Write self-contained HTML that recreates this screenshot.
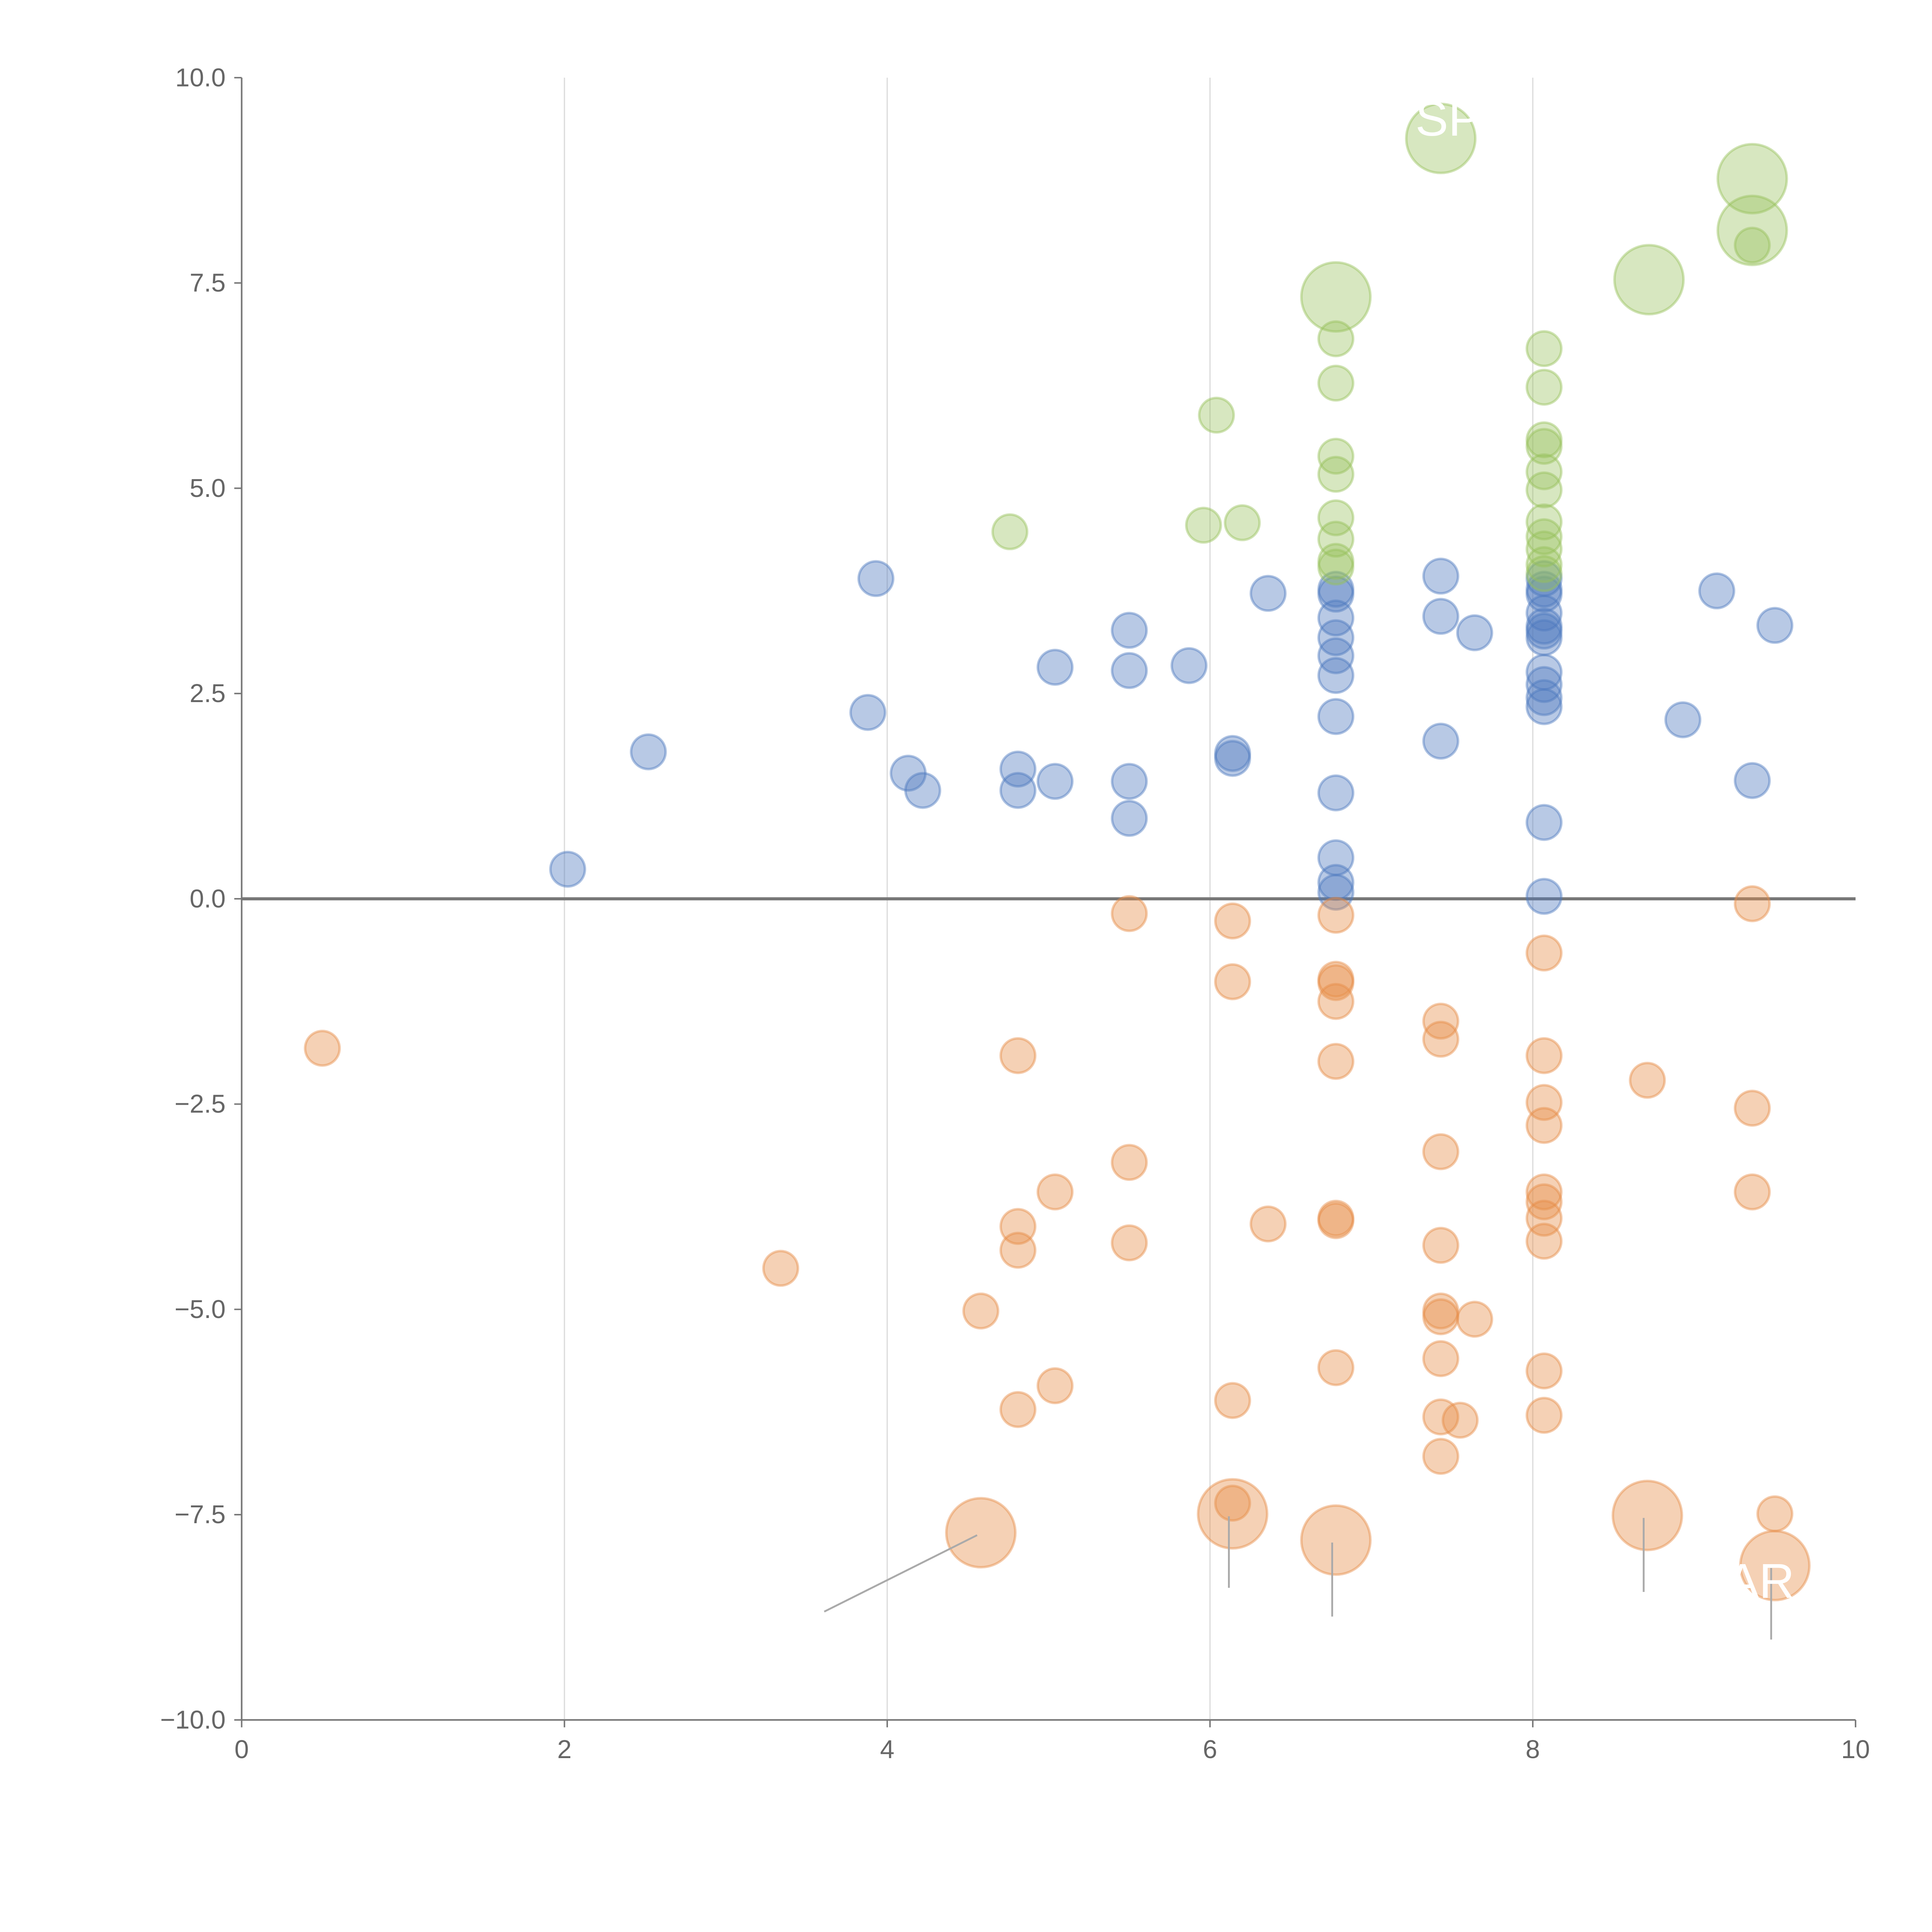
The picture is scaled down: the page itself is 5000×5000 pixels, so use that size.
<!DOCTYPE html>
<html><head><meta charset="utf-8"><style>
html,body{margin:0;padding:0;background:#fff;}
svg{display:block;font-family:"Liberation Sans",Arial,sans-serif;}
</style></head><body>
<svg id="chart" width="5000" height="5000" viewBox="0 0 1567 1567" xmlns="http://www.w3.org/2000/svg">
<g id="grid"></g>
<g id="axes"></g>
<g id="marks"></g>
<g id="labels"></g>
</svg>
<script>
const xTicks=[0,2,4,6,8,10];
const yTicks=[10,7.5,5,2.5,0,-2.5,-5,-7.5,-10];
const yTickLabels=["10.0","7.5","5.0","2.5","0.0","\u22122.5","\u22125.0","\u22127.5","\u221210.0"];
const blueX=[2.02,2.52,3.88,3.93,4.13,4.22,4.81,4.81,5.04,5.04,5.50,5.50,5.50,5.50,5.87,6.14,6.14,6.36,6.78,6.78,6.78,6.78,6.78,6.78,6.78,6.78,6.78,6.78,6.78,7.43,7.43,7.43,7.64,8.07,8.07,8.07,8.07,8.07,8.07,8.07,8.07,8.07,8.07,8.07,8.07,8.07,8.93,9.14,9.36,9.50];
const blueY=[0.36,1.79,2.27,3.90,1.53,1.32,1.58,1.32,2.82,1.43,3.27,2.78,1.43,0.98,2.84,1.77,1.71,3.72,3.77,3.71,3.42,3.18,2.96,2.72,2.22,1.29,0.50,0.20,0.08,3.93,3.44,1.92,3.24,3.90,3.77,3.71,3.48,3.32,3.26,3.18,2.76,2.61,2.45,2.34,0.93,0.03,2.18,3.75,1.44,3.33];
const greenX=[4.76,5.96,6.04,6.20,6.78,6.78,6.78,6.78,6.78,6.78,6.78,6.78,8.07,8.07,8.07,8.07,8.07,8.07,8.07,8.07,8.07,8.07,8.07,9.36];
const greenY=[4.47,4.55,5.89,4.58,6.82,6.28,5.39,5.17,4.64,4.38,4.11,4.04,6.70,6.23,5.59,5.51,5.20,4.98,4.59,4.41,4.26,4.07,3.96,7.96];
const bigGreenX=[6.78,7.43,8.72,9.36,9.36];
const bigGreenY=[7.33,9.26,7.54,8.14,8.77];
const orangeX=[0.50,3.34,4.58,4.81,4.81,4.81,4.81,5.04,5.04,5.50,5.50,5.50,6.14,6.14,6.14,6.14,6.36,6.78,6.78,6.78,6.78,6.78,6.78,6.78,6.78,7.43,7.43,7.43,7.43,7.43,7.43,7.43,7.43,7.43,7.55,7.64,8.07,8.07,8.07,8.07,8.07,8.07,8.07,8.07,8.07,8.07,8.71,9.36,9.36,9.36,9.50];
const orangeY=[-1.82,-4.50,-5.02,-1.91,-3.99,-4.28,-6.22,-3.57,-5.93,-0.18,-3.21,-4.19,-0.27,-1.01,-6.11,-7.36,-3.96,-0.20,-0.98,-1.02,-1.25,-1.98,-3.89,-3.92,-5.71,-1.49,-1.71,-3.08,-4.22,-5.02,-5.09,-5.60,-6.31,-6.79,-6.35,-5.12,-0.66,-1.91,-2.48,-2.76,-3.57,-3.69,-3.89,-4.17,-5.75,-6.29,-2.21,-0.06,-2.55,-3.57,-7.49];
const bigOrangeX=[4.58,6.14,6.78,8.71,9.50];
const bigOrangeY=[-7.72,-7.49,-7.81,-7.51,-8.12];

const NS="http://www.w3.org/2000/svg";
const X0=196,X1=1505,Y0=1395,Y1=63;
const sx=v=>X0+(v-0)/10*(X1-X0);
const sy=v=>Y0-(v+10)/20*(Y0-Y1);
function mk(tag,attrs,parent){const e=document.createElementNS(NS,tag);for(const k in attrs)e.setAttribute(k,attrs[k]);parent.appendChild(e);return e;}
const grid=document.getElementById('grid'),axes=document.getElementById('axes'),marks=document.getElementById('marks'),labels=document.getElementById('labels');

xTicks.forEach((t,i)=>{
  if(t>0&&t<10){const g=mk('line',{x1:sx(t),x2:sx(t),y1:Y1,y2:Y0,stroke:'#dcdcdc','stroke-width':1},grid);
  
  }
  const tk=mk('line',{x1:sx(t),x2:sx(t),y1:Y0,y2:Y0+6,stroke:'#777','stroke-width':1.2},axes);
  
  
  const tx=mk('text',{x:sx(t),y:Y0+31,'text-anchor':'middle','font-size':21,fill:'#666'},axes);
  tx.textContent=String(t);
  
  
});
yTicks.forEach((t,i)=>{
  const tk=mk('line',{x1:X0-6,x2:X0,y1:sy(t),y2:sy(t),stroke:'#777','stroke-width':1.2},axes);
  
  
  const tx=mk('text',{x:X0-13,y:sy(t)+7,'text-anchor':'end','font-size':21,fill:'#666'},axes);
  tx.textContent=yTickLabels[i];
  
  
});
const ya=mk('line',{x1:X0,x2:X0,y1:Y1,y2:Y0,stroke:'#777','stroke-width':1.3},axes);


const xa=mk('line',{x1:X0,x2:X1,y1:Y0,y2:Y0,stroke:'#777','stroke-width':1.3},axes);


const zl=mk('line',{x1:X0,x2:X1,y1:sy(0),y2:sy(0),stroke:'#777','stroke-width':2.5},axes);



function series(xs,ys,r,fill,stroke,name){
  xs.forEach((x,i)=>{
    const c=mk('circle',{cx:sx(x),cy:sy(ys[i]),r:r,fill:fill,stroke:stroke,'stroke-width':2},marks);
    
    
  });
}
series(blueX,blueY,14,'rgba(78,121,190,0.4)','rgba(78,121,190,0.45)','blue-point');
series(greenX,greenY,14,'rgba(150,192,90,0.38)','rgba(150,192,90,0.45)','green-point');
series(bigGreenX,bigGreenY,28,'rgba(150,192,90,0.38)','rgba(150,192,90,0.45)','green-big-point');
series(orangeX,orangeY,14,'rgba(230,140,70,0.4)','rgba(230,140,70,0.45)','orange-point');
series(bigOrangeX,bigOrangeY,28,'rgba(230,140,70,0.4)','rgba(230,140,70,0.45)','orange-big-point');

const leadDX=[-124,0,0,0,0], leadDY=[62,58,60,60,58];
bigOrangeX.forEach((x,i)=>{
  const l=mk('line',{x1:sx(x)-3,y1:sy(bigOrangeY[i])+2,x2:sx(x)-3+leadDX[i],y2:sy(bigOrangeY[i])+2+leadDY[i],stroke:'#aaa','stroke-width':1.5},labels);
  
  
});
const t1=mk('text',{x:1148,y:110,'font-size':40,fill:'#fff'},labels);
t1.textContent='SP';


const t2=mk('text',{x:1400,y:1296,'font-size':40,fill:'#fff'},labels);
t2.textContent='AR';


</script>
</body></html>
